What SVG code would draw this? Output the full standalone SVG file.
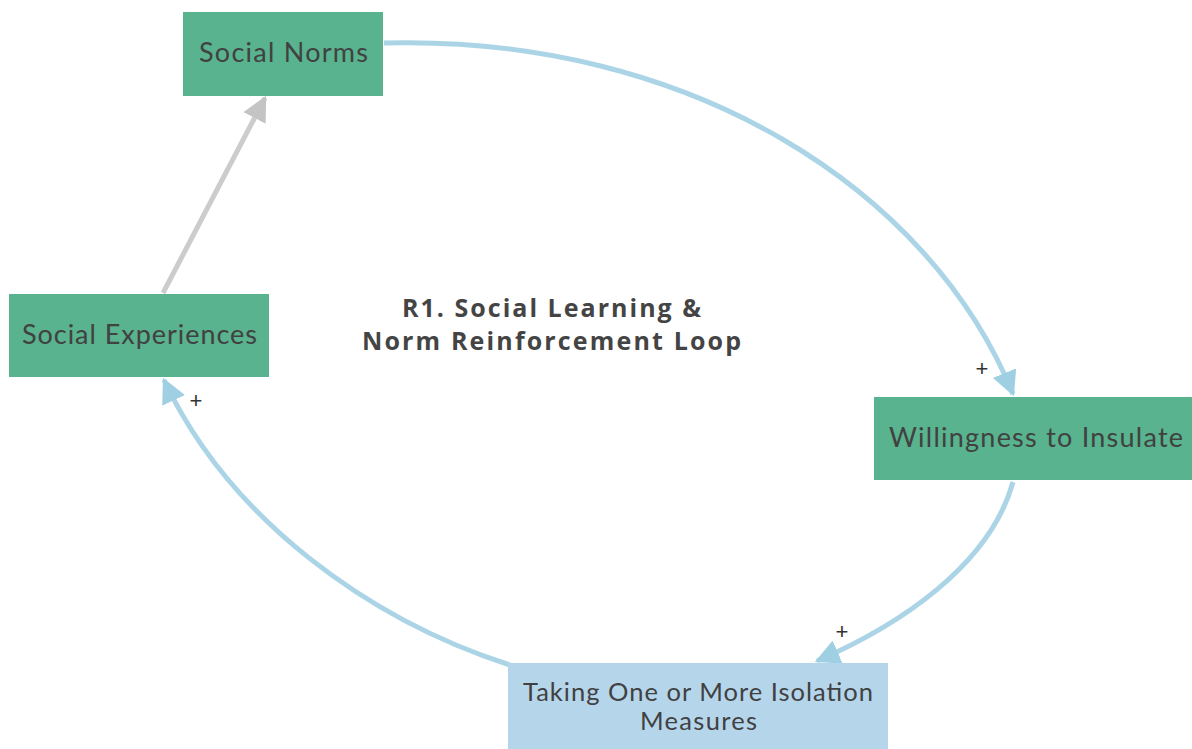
<svg xmlns="http://www.w3.org/2000/svg" width="1192" height="749" viewBox="0 0 1192 749">
<defs>
<style>
.n{fill:#58b38e}
.b{fill:#b5d5eb}
.t{font-family:Lato,"Liberation Sans",sans-serif;font-size:27px;fill:#414141;text-anchor:middle}
.t2{font-size:25.5px}
.c{fill:none;stroke:#abd5e6;stroke-width:5}
.g{fill:none;stroke:#cccccc;stroke-width:5}
.p{font-family:"Liberation Sans",sans-serif;font-size:22px;fill:#333;text-anchor:middle}
.h{font-family:"Open Sans","Liberation Sans",sans-serif;font-size:25px;font-weight:bold;fill:#444;text-anchor:middle}
</style>
<marker id="ab" viewBox="0 0 10 10" refX="9" refY="5" markerWidth="5" markerHeight="5" orient="auto" markerUnits="strokeWidth"><path d="M0,0L10,5L0,10z" fill="#9fcfe2"/></marker>
<marker id="ag" viewBox="0 0 10 10" refX="9" refY="5" markerWidth="5" markerHeight="5" orient="auto" markerUnits="strokeWidth"><path d="M0,0L10,5L0,10z" fill="#c4c4c4"/></marker>
</defs>
<g id="connectors">
<path class="c" d="M384,43 C690,35 930,190 1013,394" marker-end="url(#ab)"/>
<path class="c" d="M1013,482 C990,565 900,625 817,661" marker-end="url(#ab)"/>
<path class="c" d="M510,665 C370,620 230,520 164,380" marker-end="url(#ab)"/>
<path class="g" d="M163,293 L265,98" marker-end="url(#ag)"/>
<text class="p" x="982" y="376">+</text>
<text class="p" x="842" y="639">+</text>
<text class="p" x="196" y="408">+</text>
</g>
<g id="social-norms"><rect class="n" x="183" y="12" width="200" height="84"/><text class="t" x="283.5" y="62" textLength="169" lengthAdjust="spacing">Social Norms</text></g>
<g id="social-experiences"><rect class="n" x="9" y="294" width="260" height="83"/><text class="t" x="139.5" y="344" textLength="235" lengthAdjust="spacing">Social Experiences</text></g>
<g id="willingness"><rect class="n" x="874" y="397" width="318" height="83"/><text class="t" x="1036" y="447" textLength="294" lengthAdjust="spacing">Willingness to Insulate</text></g>
<g id="taking"><rect class="b" x="508" y="663" width="380" height="86"/><text class="t t2" x="698" y="701" textLength="350" lengthAdjust="spacing">Taking One or More Isolation</text><text class="t t2" x="698.5" y="730" textLength="117" lengthAdjust="spacing">Measures</text></g>
<g id="title"><text class="h" x="551.5" y="317" textLength="299" lengthAdjust="spacing">R1. Social Learning &amp;</text><text class="h" x="551.5" y="350" textLength="379" lengthAdjust="spacing">Norm Reinforcement Loop</text></g>
</svg>
